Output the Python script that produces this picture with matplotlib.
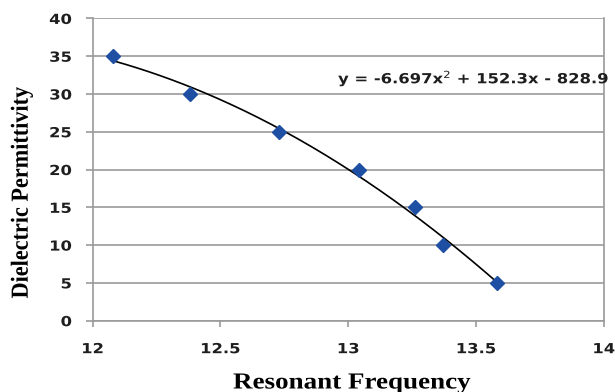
import numpy as np
import matplotlib
matplotlib.use("Agg")
import matplotlib.pyplot as plt
from matplotlib.patheffects import AbstractPathEffect
from matplotlib.transforms import Affine2D

# resonant frequency vs dielectric permittivity
frequency = [12.08, 12.38, 12.73, 13.04, 13.26, 13.37, 13.58]
permittivity = [35, 30, 25, 20, 15, 10, 5]
x_ticks = [12, 12.5, 13, 13.5, 14]
x_tick_labels = ["12", "12.5", "13", "13.5", "14"]
y_ticks = [0, 5, 10, 15, 20, 25, 30, 35, 40]
equation = "y = -6.697x$^2$ + 152.3x - 828.9"

grid_color = "#9a9a9a"
text_color = "#1e1e1e"


class Stretch(AbstractPathEffect):
    """Stretch glyphs (the source image is a bit wider than it was drawn)."""

    def __init__(self, sx=1.0, sy=1.0, anchor="center"):
        super().__init__()
        self.sx, self.sy, self.anchor = sx, sy, anchor

    def draw_path(self, renderer, gc, tpath, affine, rgbFace=None):
        ext = tpath.get_extents()
        ax_ = {"left": ext.x0, "right": ext.x1}.get(self.anchor, (ext.x0 + ext.x1) / 2)
        ay_ = (ext.y0 + ext.y1) / 2
        t = Affine2D().translate(-ax_, -ay_).scale(self.sx, self.sy).translate(ax_, ay_)
        renderer.draw_path(gc, tpath, t + affine, rgbFace)


fig = plt.figure(figsize=(6.15, 3.92), dpi=100)
ax = fig.add_axes([0.1507, 0.182, 0.8313, 0.771])

# polynomial trendline (order 2) fitted to the points
coef = np.polyfit(frequency, permittivity, 2)
xs = np.linspace(min(frequency), max(frequency), 200)
ax.plot(xs, np.polyval(coef, xs), color="black", lw=1.2, zorder=2)

ax.plot(frequency, permittivity, linestyle="none", marker="D", markersize=7.5,
        color="#1f4fa3", markeredgecolor="#1f4fa3", zorder=3)

ax.set_xlim(12, 14)
ax.set_ylim(0, 40)
ax.set_xticks(x_ticks)
ax.set_xticklabels(x_tick_labels)
ax.set_yticks(y_ticks)
ax.yaxis.grid(True, color=grid_color, lw=1.2)
ax.set_axisbelow(True)

for side in ["left", "bottom", "right"]:
    ax.spines[side].set_color(grid_color)
    ax.spines[side].set_linewidth(1.2)
ax.spines["top"].set_visible(False)

ax.tick_params(axis="both", colors=grid_color, width=1.2)
ax.tick_params(axis="x", direction="out", length=4, pad=11.5)
ax.tick_params(axis="y", direction="out", length=5, pad=10)
for lab in ax.get_xticklabels():
    lab.set(color=text_color, fontweight="bold", fontsize=10)
    lab.set_path_effects([Stretch(sx=1.18, anchor="center")])
for lab in ax.get_yticklabels():
    lab.set(color=text_color, fontweight="bold", fontsize=10)
    lab.set_path_effects([Stretch(sx=1.18, anchor="right")])

ax.text(0.48, 0.801, equation, transform=ax.transAxes, ha="left", va="center",
        fontsize=10, fontweight="bold", color=text_color,
        path_effects=[Stretch(sx=1.18, anchor="left")])

fig.text(0.379, 0.023, "Resonant Frequency", ha="left", va="center",
         fontsize=16.5, fontweight="bold", family="Liberation Serif",
         color="black", path_effects=[Stretch(sx=1.18, anchor="left")])
fig.text(0.036, 0.51, "Dielectric Permittivity", ha="center", va="center",
         rotation=90, fontsize=16, fontweight="bold", family="Liberation Serif",
         color="black", path_effects=[Stretch(sy=1.1)])

fig.savefig("out.png", dpi=100)
